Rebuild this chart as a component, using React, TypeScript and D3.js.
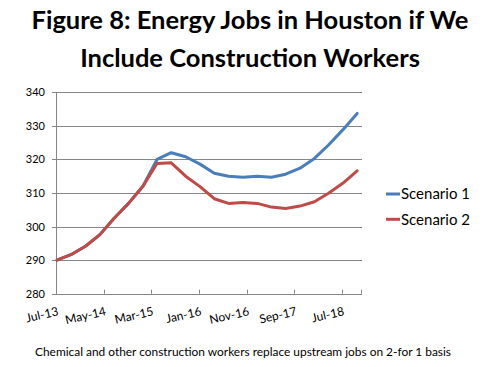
import { useEffect, useRef } from 'react';
import * as d3 from 'd3';

// quarterly observations, Jul-13 .. Oct-18
const quarters = [
  '2013-07', '2013-10', '2014-01', '2014-04', '2014-07', '2014-10',
  '2015-01', '2015-04', '2015-07', '2015-10', '2016-01', '2016-04',
  '2016-07', '2016-10', '2017-01', '2017-04', '2017-07', '2017-10',
  '2018-01', '2018-04', '2018-07', '2018-10',
];

const scenario1 = [
  290.0, 291.7, 294.2, 297.6, 302.5, 306.9, 312.0, 320.0, 322.0, 320.8, 318.6,
  315.9, 315.0, 314.7, 315.0, 314.7, 315.6, 317.4, 320.3, 324.3, 328.8, 333.7,
];

const scenario2 = [
  290.0, 291.7, 294.2, 297.6, 302.5, 306.9, 312.0, 318.8, 319.0, 315.0, 311.9,
  308.3, 306.9, 307.2, 306.9, 305.8, 305.4, 306.1, 307.4, 309.9, 312.9, 316.6,
];

const xTickLabels = ['Jul-13', 'May-14', 'Mar-15', 'Jan-16', 'Nov-16', 'Sep-17', 'Jul-18'];
const yTicks = [280, 290, 300, 310, 320, 330, 340];

const seriesNames = ['Scenario 1', 'Scenario 2'];
const seriesColors = ['#4a7ebb', '#be4b48'];

const parseMonth = d3.timeParse('%Y-%m');
const parseLabel = d3.timeParse('%b-%y');

const Chart = () => {
  const ref = useRef<SVGSVGElement>(null);

  useEffect(() => {
    const svg = d3.select(ref.current);
    svg.selectAll('*').remove();

    const width = 499;
    const marginLeft = 57;
    const marginRight = 137;
    const top = 92.3;
    const bottom = 293.7;

    const x = d3
      .scaleTime()
      .domain([parseMonth('2013-07')!, parseMonth('2018-11')!])
      .range([marginLeft, width - marginRight]);

    const y = d3.scaleLinear().domain([280, 340]).range([bottom, top]);

    // title
    const title = svg
      .append('text')
      .attr('text-anchor', 'middle')
      .style('font-family', 'Lato, sans-serif')
      .style('font-weight', 'bold')
      .style('font-size', '25.5px')
      .attr('fill', '#000');
    title.append('tspan').attr('x', 250).attr('y', 29).text('Figure 8: Energy Jobs in Houston if We');
    title.append('tspan').attr('x', 250).attr('y', 67).text('Include Construction Workers');

    // grid lines
    svg
      .append('g')
      .selectAll('line')
      .data(yTicks)
      .join('line')
      .attr('x1', marginLeft - 5)
      .attr('x2', width - marginRight)
      .attr('y1', (d) => Math.round(y(d)) + 0.5)
      .attr('y2', (d) => Math.round(y(d)) + 0.5)
      .attr('stroke', '#868686')
      .attr('stroke-width', 1);

    // y axis
    svg
      .append('line')
      .attr('x1', marginLeft - 0.5)
      .attr('x2', marginLeft - 0.5)
      .attr('y1', top)
      .attr('y2', bottom)
      .attr('stroke', '#868686');

    svg
      .append('g')
      .selectAll('text')
      .data(yTicks)
      .join('text')
      .attr('x', 45)
      .attr('y', (d) => y(d) + 4)
      .attr('text-anchor', 'end')
      .style('font-family', 'Lato, sans-serif')
      .style('font-size', '11px')
      .attr('fill', '#000')
      .text((d) => d);

    // x ticks (pointing up) and labels
    const xTickDates = xTickLabels.map((d) => parseLabel(d)!);
    svg
      .append('g')
      .selectAll('line')
      .data([...xTickDates, x.domain()[1]])
      .join('line')
      .attr('x1', (d) => Math.round(x(d)) - 0.5)
      .attr('x2', (d) => Math.round(x(d)) - 0.5)
      .attr('y1', bottom - 4)
      .attr('y2', bottom)
      .attr('stroke', '#868686');

    svg
      .append('g')
      .selectAll('text')
      .data(xTickDates)
      .join('text')
      .attr('transform', (d) => `translate(${x(d) + 2},315) rotate(-13)`)
      .attr('text-anchor', 'end')
      .style('font-family', 'Lato, sans-serif')
      .style('font-size', '12px')
      .attr('fill', '#000')
      .text((d, i) => xTickLabels[i]);

    // lines
    const dates = quarters.map((d) => parseMonth(d)!);
    const line = d3
      .line<number>()
      .x((d, i) => x(dates[i]))
      .y((d) => y(d));

    [scenario1, scenario2].forEach((values, k) => {
      svg
        .append('path')
        .datum(values)
        .attr('d', line)
        .attr('fill', 'none')
        .attr('stroke', seriesColors[k])
        .attr('stroke-width', 3)
        .attr('stroke-linejoin', 'round')
        .attr('stroke-linecap', 'round');
    });

    // legend
    const legend = svg
      .append('g')
      .selectAll('g')
      .data(seriesNames)
      .join('g')
      .attr('transform', (d, i) => `translate(386,${194 + i * 25.3})`);
    legend
      .append('line')
      .attr('x1', 0)
      .attr('x2', 14)
      .attr('stroke', (d, i) => seriesColors[i])
      .attr('stroke-width', 3);
    legend
      .append('text')
      .attr('x', 15)
      .attr('y', 5.3)
      .style('font-family', 'Lato, sans-serif')
      .style('font-size', '15px')
      .attr('fill', '#000')
      .text((d) => d);

    // caption
    svg
      .append('text')
      .attr('x', 35)
      .attr('y', 356)
      .attr('textLength', 416)
      .attr('lengthAdjust', 'spacingAndGlyphs')
      .style('font-family', 'Lato, sans-serif')
      .style('font-size', '11.5px')
      .attr('fill', '#000')
      .text('Chemical and other construction workers replace upstream jobs on 2-for 1 basis');
  }, [ref]);

  return (
    <svg
      ref={ref}
      width={499}
      height={367}
      style={{ position: 'absolute', left: 0, top: 0, background: '#fff' }}
    />
  );
};

export default function App() {
  return (
    <div>
      <Chart />
    </div>
  );
}
